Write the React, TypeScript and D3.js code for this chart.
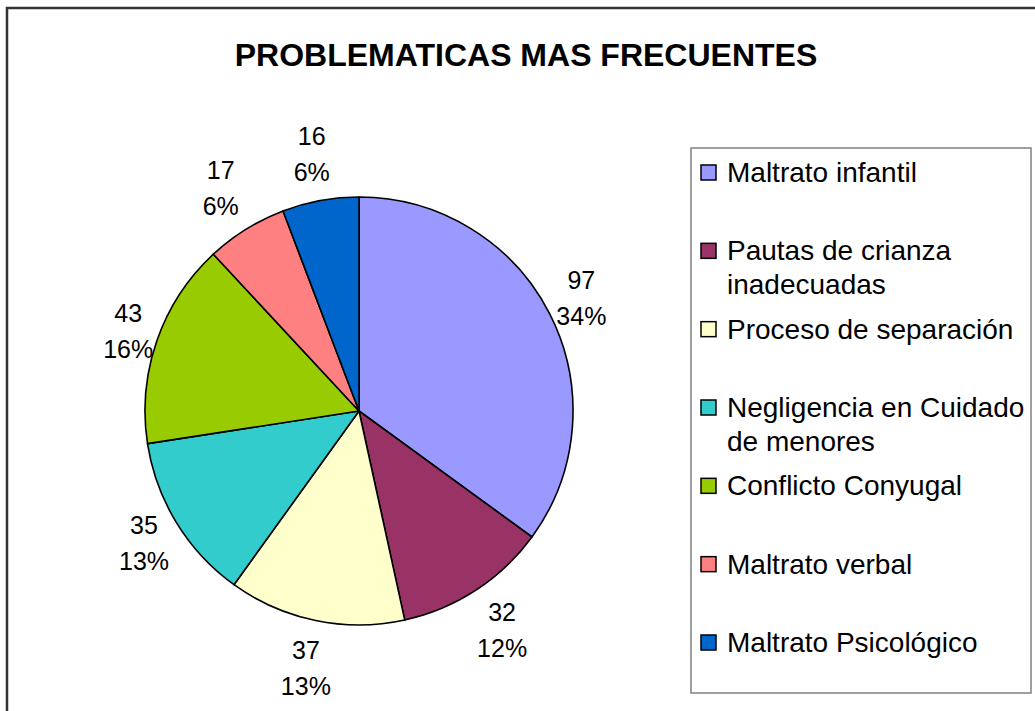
import React from "react";
import * as d3 from "d3";

const categories = [
  "Maltrato infantil",
  "Pautas de crianza inadecuadas",
  "Proceso de separación",
  "Negligencia en Cuidado de menores",
  "Conflicto Conyugal",
  "Maltrato verbal",
  "Maltrato Psicológico",
];
const values = [97, 32, 37, 35, 43, 17, 16];
const percentLabels = ["34%", "12%", "13%", "13%", "16%", "6%", "6%"];
const colors = ["#9999FF", "#993366", "#FFFFCC", "#33CCCC", "#99CC00", "#FF8080", "#0066CC"];
const title = "PROBLEMATICAS MAS FRECUENTES";

const W = 1035;
const H = 711;
const FONT = "Arial, 'Liberation Sans', sans-serif";

function wrap(text: string, maxWidth: number, font: string): string[] {
  const canvas = document.createElement("canvas");
  const ctx = canvas.getContext("2d");
  if (!ctx) return [text];
  ctx.font = font;
  const words = text.split(" ");
  const lines: string[] = [];
  let cur = "";
  for (const w of words) {
    const test = cur ? cur + " " + w : w;
    if (ctx.measureText(test).width > maxWidth && cur) {
      lines.push(cur);
      cur = w;
    } else cur = test;
  }
  if (cur) lines.push(cur);
  return lines;
}

export default function App() {
  const cx = 359;
  const cy = 411;
  const r = 214;
  const pie = d3.pie<number>().sort(null).value((d) => d)(values);
  const arc = d3.arc<d3.PieArcDatum<number>>().innerRadius(0).outerRadius(r);

  const labelFont = 25;
  const lineGap = 36;

  const legendX = 691;
  const legendY = 148;
  const legendW = 340;
  const legendH = 545;
  const legendFont = 28;
  const rowY = d3.scaleLinear().domain([0, categories.length - 1]).range([172, 642]);

  return (
    <svg width={W} height={H} style={{ position: "absolute", left: 0, top: 0, background: "#fff" }}>
      <rect x={0} y={0} width={W} height={H} fill="#fff" />
      <rect x={7} y={8} width={1040} height={720} fill="#fff" stroke="#333" strokeWidth={2.5} />
      <text
        x={526}
        y={66}
        textAnchor="middle"
        fontFamily={FONT}
        fontWeight="bold"
        fontSize={32}
        fill="#000"
      >
        {title}
      </text>
      <g transform={`translate(${cx},${cy})`}>
        {pie.map((p, i) => (
          <path key={i} d={arc(p) || ""} fill={colors[i]} stroke="#000" strokeWidth={1.6} strokeLinejoin="round" />
        ))}
        {pie.map((p, i) => {
          const mid = (p.startAngle + p.endAngle) / 2;
          const dx = Math.sin(mid);
          const dy = -Math.cos(mid);
          const dist = r - 5 + Math.abs(dx) * 20 + Math.abs(dy) * 50;
          const lx = dx * dist;
          const ly = dy * dist;
          return (
            <g key={"l" + i} fontFamily={FONT} fontSize={labelFont} fill="#000" textAnchor="middle">
              <text x={lx} y={ly - lineGap / 2 + labelFont * 0.36}>{values[i]}</text>
              <text x={lx} y={ly + lineGap / 2 + labelFont * 0.36}>{percentLabels[i]}</text>
            </g>
          );
        })}
      </g>
      <rect x={legendX} y={legendY} width={legendW} height={legendH} fill="#fff" stroke="#808080" strokeWidth={1.5} />
      {categories.map((c, i) => {
        const lines = wrap(c, legendW - 38, `${legendFont}px Arial, 'Liberation Sans', sans-serif`);
        const y0 = rowY(i);
        return (
          <g key={"lg" + i}>
            <rect x={701} y={y0 - 7} width={15} height={15} fill={colors[i]} stroke="#000" strokeWidth={1.5} />
            {lines.map((ln, j) => (
              <text
                key={j}
                x={727}
                y={y0 + j * 33.5 + legendFont * 0.36}
                fontFamily={FONT}
                fontSize={legendFont}
                fill="#000"
              >
                {ln}
              </text>
            ))}
          </g>
        );
      })}
    </svg>
  );
}
